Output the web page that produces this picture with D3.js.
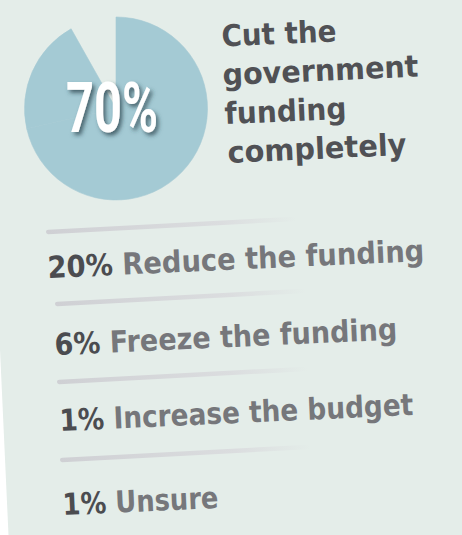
<!DOCTYPE html>
<html>
<head>
<meta charset="utf-8">
<script src="https://cdn.jsdelivr.net/npm/d3@7"></script>
<style>
  html, body { margin: 0; padding: 0; background: #ffffff; }
  svg { display: block; }
</style>
</head>
<body>
<svg id="chart" width="462" height="535"></svg>
<script>
// Survey answers and their shares (percent)
const answers = ["Cut the government funding completely", "Reduce the funding", "Freeze the funding", "Increase the budget", "Unsure"];
const shares = [70, 20, 6, 1, 1];
// answers that call for less money share the blue fill in the pie
const wantsLess = [true, true, false, false, false];
const headlineLines = ["Cut the", "government", "funding", "completely"];

const W = 462, H = 535;
const BG = "#e4ede9";
const BLUE = "#a4cad4";
const TILT = -2.6;

const svg = d3.select("#chart");
const defs = svg.append("defs");

// soft dark shadow under the big white number
const shadow = defs.append("filter").attr("id", "numShadow")
  .attr("x", "-30%").attr("y", "-30%").attr("width", "160%").attr("height", "160%");
shadow.append("feDropShadow")
  .attr("dx", 2.5).attr("dy", 3).attr("stdDeviation", 2.2)
  .attr("flood-color", "#2b434b").attr("flood-opacity", 0.75);

// divider rule fading out to the right
const ruleGrad = defs.append("linearGradient").attr("id", "ruleGrad")
  .attr("x1", "0%").attr("x2", "100%").attr("y1", "0%").attr("y2", "0%");
ruleGrad.append("stop").attr("offset", "0%").attr("stop-color", "#cfd0d4");
ruleGrad.append("stop").attr("offset", "70%").attr("stop-color", "#dbdddf");
ruleGrad.append("stop").attr("offset", "100%").attr("stop-color", BG);

// card background with a slightly slanted left edge
svg.append("polygon")
  .attr("points", [[-16, 0], [W, 0], [W, H], [8.5, H]].map(p => p.join(",")).join(" "))
  .attr("fill", BG);

// ---- pie ----
const cx = 116, cy = 108.5, R = 91.5;
const pie = d3.pie().sort(null).startAngle(0).endAngle(2 * Math.PI);
const arc = d3.arc().innerRadius(0).outerRadius(R);
const pieG = svg.append("g").attr("transform", `translate(${cx},${cy})`);
pieG.selectAll("path")
  .data(pie(shares))
  .join("path")
  .attr("d", arc)
  .attr("fill", (d, i) => wantsLess[i] ? BLUE : "none")
  .attr("stroke", (d, i) => wantsLess[i] ? BLUE : "none")
  .attr("stroke-width", 0.6)
  .attr("stroke-linejoin", "round");

// big share number on the pie
svg.append("text")
  .attr("x", 66).attr("y", 132)
  .attr("font-family", "Roboto, 'Liberation Sans', sans-serif")
  .attr("font-weight", 700)
  .attr("font-size", 71)
  .attr("fill", "#ffffff")
  .attr("filter", "url(#numShadow)")
  .attr("textLength", 92)
  .attr("lengthAdjust", "spacingAndGlyphs")
  .text(shares[0] + "%");

// ---- headline of the leading answer ----
const FONT = "'DejaVu Sans', 'Open Sans', sans-serif";
const headX = [222, 223, 225, 228];
const headW = [115, 196, 122, 179];
const headG = svg.append("g");
headlineLines.forEach((line, i) => {
  const y = 46.5 + i * 38.8;
  headG.append("text")
    .attr("x", headX[i]).attr("y", y)
    .attr("transform", `rotate(${TILT},${headX[i]},${y})`)
    .attr("font-family", FONT)
    .attr("font-weight", 700)
    .attr("font-size", 30)
    .attr("fill", "#505155")
    .attr("textLength", headW[i])
    .attr("lengthAdjust", "spacingAndGlyphs")
    .text(line);
});

// ---- remaining answers ----
const rest = answers.slice(1).map((a, i) => ({ label: a, share: shares[i + 1] }));
const itemX = [48, 55, 60, 63];
const itemY = [278, 355, 431, 515];
const itemW = [377, 343, 354, 156];
const ruleX = [46, 55, 57, 60];
const ruleY = [232, 304, 382, 460];

const listG = svg.append("g");
rest.forEach((d, i) => {
  // divider above each answer
  listG.append("rect")
    .attr("x", ruleX[i]).attr("y", ruleY[i] - 2.25)
    .attr("width", 251).attr("height", 4.5)
    .attr("rx", 2.25)
    .attr("transform", `rotate(-3,${ruleX[i]},${ruleY[i]})`)
    .attr("fill", "url(#ruleGrad)");

  const t = listG.append("text")
    .attr("x", itemX[i]).attr("y", itemY[i])
    .attr("transform", `rotate(${TILT},${itemX[i]},${itemY[i]})`)
    .attr("font-family", FONT)
    .attr("font-weight", 700)
    .attr("font-size", 30)
    .attr("textLength", itemW[i])
    .attr("lengthAdjust", "spacingAndGlyphs");
  t.append("tspan").attr("fill", "#4b4c50").text(d.share + "%");
  t.append("tspan").attr("fill", "#76777b").text(" " + d.label);
});
</script>
</body>
</html>
